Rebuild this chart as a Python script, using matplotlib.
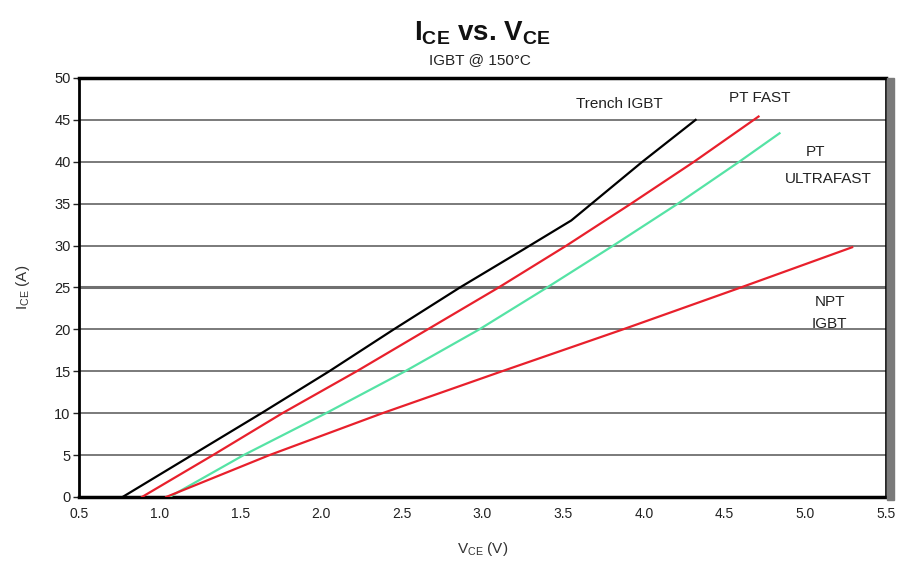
import numpy as np
import matplotlib
matplotlib.use("Agg")
import matplotlib.pyplot as plt
from matplotlib.patches import Rectangle

plt.rcParams['font.family'] = ['Liberation Sans', 'DejaVu Sans']
plt.rcParams['mathtext.fontset'] = 'custom'
plt.rcParams['mathtext.rm'] = 'Liberation Sans'
plt.rcParams['mathtext.bf'] = 'Liberation Sans:bold'

# I-V curves at 150 C, read as (Vce, Ice) pairs
trench_v = [0.77, 1.20, 1.63, 2.05, 2.45, 2.86, 3.25, 3.55, 3.99, 4.32]
trench_i = [0, 5, 10, 15, 20, 25, 29.5, 33, 40, 45]

ptfast_v = [0.89, 1.33, 1.76, 2.22, 2.66, 3.10, 3.52, 3.92, 4.31, 4.71]
ptfast_i = [0, 5, 10, 15, 20, 25, 30, 35, 40, 45.4]

ultra_v = [1.06, 1.52, 2.03, 2.52, 2.98, 3.40, 3.81, 4.21, 4.59, 4.84]
ultra_i = [0, 5, 10, 15, 20, 25, 30, 35, 40, 43.4]

npt_v = [1.04, 1.68, 2.38, 3.12, 3.87, 4.60, 5.29]
npt_i = [0, 5, 10, 15, 20, 25, 29.8]

xticks = [0.5, 1.0, 1.5, 2.0, 2.5, 3.0, 3.5, 4.0, 4.5, 5.0, 5.5]
yticks = [0, 5, 10, 15, 20, 25, 30, 35, 40, 45, 50]

fig = plt.figure(figsize=(9.01, 5.61), dpi=100)
ax = fig.add_axes([0.0877, 0.1141, 0.8957, 0.7469])

# horizontal grid, 25 A line drawn heavier
for y in yticks[1:-1]:
    lw = 2.2 if y == 25 else 1.3
    ax.axhline(y, color='#707070', lw=lw, zorder=1)

red = '#e8202c'
ax.plot(trench_v, trench_i, color='black', lw=1.6, zorder=3)
ax.plot(ptfast_v, ptfast_i, color=red, lw=1.6, zorder=3)
ax.plot(ultra_v, ultra_i, color='#55e3a5', lw=1.6, zorder=3)
ax.plot(npt_v, npt_i, color=red, lw=1.6, zorder=3)

ax.set_xlim(0.5, 5.5)
ax.set_ylim(0, 50)
ax.set_xticks(xticks)
ax.set_xticklabels([f'{x:.1f}' for x in xticks])
ax.set_yticks(yticks)
ax.tick_params(axis='y', length=4, width=1, labelsize=10.5, colors='#222222', pad=2)
ax.tick_params(axis='x', length=0, labelsize=10, colors='#222222', pad=7)
for s in ax.spines.values():
    s.set_color('black')
ax.spines['left'].set_linewidth(2)
ax.spines['bottom'].set_linewidth(2.5)
ax.spines['top'].set_linewidth(2.5)
ax.spines['right'].set_linewidth(1.2)

# shaded edge on the right of the frame
fig.patches.append(Rectangle((0.9845, 0.109), 0.0075, 0.752, transform=fig.transFigure,
                             color='#7a7a7a', zorder=0))

# curve labels
lbl = dict(fontsize=11, color='#222222', ha='center', va='center', zorder=4)
ax.text(3.85, 46.9, 'Trench IGBT', **lbl)
ax.text(4.72, 47.6, 'PT FAST', **lbl)
ax.text(5.06, 41.2, 'PT', **lbl)
ax.text(5.14, 37.9, 'ULTRAFAST', **lbl)
ax.text(5.15, 23.3, 'NPT', **lbl)
ax.text(5.15, 20.6, 'IGBT', **lbl)

fig.text(0.535, 0.94, r'$\mathbf{I_{CE}}$ vs. $\mathbf{V_{CE}}$', ha='center', va='center',
         fontsize=20, fontweight='bold', color='#111111')
fig.text(0.533, 0.893, 'IGBT @ 150°C', ha='center', va='center', fontsize=11, color='#222222')

ax.set_ylabel(r'I$_{\mathrm{CE}}$ (A)', fontsize=11, color='#333333', labelpad=16)
ax.set_xlabel(r'V$_{\mathrm{CE}}$ (V)', fontsize=11, color='#333333', labelpad=14)

fig.savefig('out.png', dpi=100)
